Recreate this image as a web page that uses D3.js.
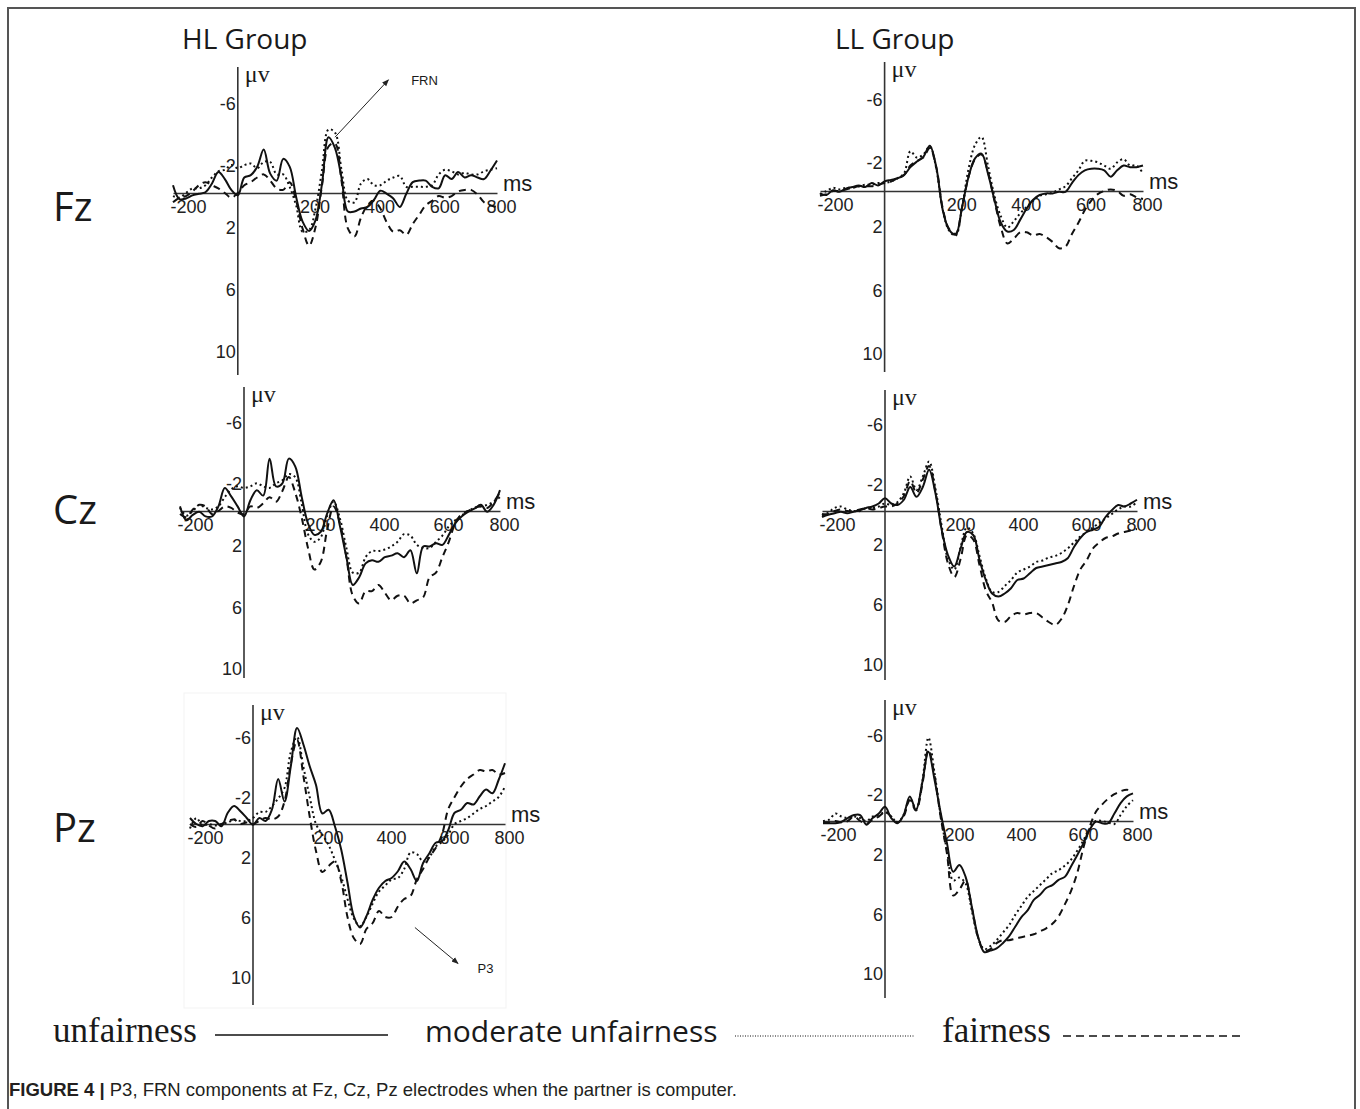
<!DOCTYPE html>
<html>
<head>
<meta charset="utf-8">
<script src="https://cdn.jsdelivr.net/npm/d3@7"></script>
<style>
  body { margin: 0; background: #fff; }
  text { fill: #1a1a1a; }
</style>
</head>
<body>
<div id="chart"></div>
<script>
// sample times (ms), shared by every waveform
var times = [-200,-180,-160,-140,-120,-100,-80,-60,-40,-20,0,20,40,60,80,100,120,140,160,180,200,
  220,240,260,280,300,320,340,360,380,400,420,440,460,480,500,520,540,560,580,600,
  620,640,660,680,700,720,740,760,780,800];

var xTicks = [-200, 200, 400, 600, 800];
var yTicks = [-6, -2, 2, 6, 10];
var groups = ["HL Group", "LL Group"];
var electrodes = ["Fz", "Cz", "Pz"];
var conditions = ["unfairness", "moderate unfairness", "fairness"];

// amplitudes in microvolts (negative plotted upward)
var hlFzUnfair = [-0.5,0.4,0.35,0.15,0.05,-0.05,-0.6,-1.35,-0.9,-0.2,0.15,-1.0,-1.15,-1.7,-2.8,-1.25,-0.8,-2.2,-1.7,0.25,1.85,
  2.45,1.75,-0.6,-3.6,-2.9,-1.0,1.2,1.2,1.0,0.9,0.45,-0.15,0.05,0.35,0.9,0.05,-0.7,-0.8,-0.8,-0.4,
  -0.3,-1.15,-0.9,-1.35,-1.0,-1.15,-1.0,-0.9,-1.45,-2.1];
var hlFzModerate = [0.2,0.3,0.0,-0.3,-0.3,-0.5,-1.0,-1.4,-1.5,-1.8,-1.6,-1.8,-1.9,-1.6,-2.0,-2.0,-1.2,-1.2,-0.4,0.8,2.5,
  2.4,1.0,-1.5,-4.1,-3.9,-1.5,0.5,0.6,-0.6,-0.9,-0.5,-0.5,-0.8,-1.0,-1.1,-0.4,-0.4,-0.4,-0.4,-0.5,
  -1.2,-1.5,-1.4,-1.2,-1.3,-1.2,-1.2,-1.4,-1.5,-1.6];
var hlFzFair = [0.6,0.3,0.2,-0.1,-0.5,-0.7,-0.5,-0.3,0.0,0.3,0.0,-0.5,-0.7,-1.0,-1.2,-0.8,-0.3,-0.2,-0.7,0.5,2.3,
  3.4,2.2,-0.5,-3.0,-3.2,-0.8,2.3,2.8,1.6,0.8,0.5,1.0,1.9,2.5,2.4,2.7,2.0,1.4,0.8,0.5,
  0.2,0.3,0.2,-0.1,-0.2,-0.2,0.1,0.6,0.8,0.9];

var hlCzUnfair = [-0.3,0.6,0.25,0.05,0.35,0.35,-0.3,-1.5,-0.95,-0.3,0.35,-0.7,-1.35,-1.0,-3.4,-1.6,-1.8,-3.4,-2.9,-0.95,0.8,
  1.55,1.35,0.15,-0.7,1.0,3.0,4.8,4.3,3.4,3.2,3.3,3.0,2.9,2.75,3.0,2.55,4.05,2.3,2.3,2.1,
  2.2,1.55,0.8,0.35,0.05,-0.15,-0.4,0.05,-0.4,-1.35];
var hlCzModerate = [-0.2,0.3,0.0,-0.4,-0.2,-0.1,-0.3,-0.9,-1.4,-1.6,-1.5,-1.6,-1.8,-1.6,-1.5,-1.8,-2.0,-2.4,-2.2,-0.5,1.5,
  2.0,1.7,0.3,-0.6,0.5,2.4,4.0,4.0,3.0,2.6,2.6,2.5,2.3,2.0,1.5,1.6,2.2,2.4,2.4,2.0,
  1.6,1.0,0.6,0.3,0.0,-0.2,-0.3,-0.4,-0.6,-0.9];
var hlCzFair = [0.2,0.4,-0.1,-0.4,-0.3,0.2,0.0,-0.3,-0.2,0.1,0.2,-0.3,-0.2,-0.5,-0.9,-0.6,-1.3,-2.2,-1.2,0.4,2.4,
  3.8,3.3,1.2,-0.3,0.8,3.0,5.5,6.0,5.2,5.2,4.8,5.3,5.8,5.5,5.5,6.0,5.8,5.6,4.3,4.0,
  3.0,2.0,0.8,0.2,0.0,-0.2,-0.3,-0.2,-0.6,-1.2];

var hlPzUnfair = [-0.4,0.0,0.15,-0.2,-0.2,0.15,-0.75,-1.2,-0.85,-0.4,0.05,-0.4,-0.2,-0.95,-3.0,-1.5,-3.85,-6.4,-5.3,-3.85,-2.6,
  -0.7,-0.95,0.15,1.7,3.9,6.15,6.9,6.15,5.05,4.25,3.8,3.6,3.15,2.5,3.0,3.8,2.6,1.95,1.25,1.15,
  0.4,-0.75,-0.95,-1.4,-1.3,-1.85,-2.3,-2.05,-2.95,-4.05];
var hlPzModerate = [0.3,-0.4,0.1,0.0,0.1,0.0,-0.1,-0.3,-0.2,-0.2,-0.4,-0.8,-0.8,-1.2,-1.7,-2.4,-4.8,-5.8,-3.8,-1.8,0.0,
  0.7,1.4,2.4,3.5,5.0,6.3,6.8,6.2,5.3,4.5,4.1,3.7,3.6,3.0,1.9,2.0,2.5,2.2,1.5,1.2,
  0.7,0.0,-0.2,-0.4,-0.7,-1.0,-1.2,-1.5,-1.8,-2.5];
var hlPzFair = [0.0,0.2,-0.2,0.1,0.3,0.0,-0.2,-0.3,0.0,-0.1,0.0,-0.2,-0.4,-0.3,-0.5,-1.5,-4.0,-5.6,-3.2,-0.5,1.8,
  3.2,2.8,2.5,3.8,6.2,7.6,8.0,7.0,6.6,5.8,6.2,6.2,5.5,5.0,4.8,3.7,3.0,2.2,1.6,0.7,
  -1.0,-1.8,-2.5,-3.0,-3.3,-3.6,-3.5,-3.6,-3.3,-3.4];

var llFzUnfair = [0.15,0.25,-0.05,0.05,-0.15,-0.25,-0.35,-0.25,-0.5,-0.35,-0.6,-0.7,-0.8,-1.0,-1.5,-1.85,-2.15,-2.85,-1.5,1.2,2.45,
  2.75,1.0,-0.9,-2.05,-2.35,-1.1,0.55,2.0,2.55,2.45,1.8,1.1,0.55,0.25,0.15,0.15,0.05,0.05,-0.5,-1.0,
  -1.3,-1.4,-1.4,-1.3,-0.9,-1.3,-1.6,-1.5,-1.5,-1.6];
var llFzModerate = [0.2,0.0,-0.2,-0.1,-0.2,-0.2,-0.3,-0.4,-0.4,-0.5,-0.5,-0.6,-0.8,-1.1,-2.5,-2.1,-2.3,-2.8,-1.4,1.2,2.5,
  2.8,1.0,-1.4,-2.9,-3.4,-1.6,0.3,1.6,2.3,1.9,1.4,1.0,0.6,0.3,0.2,0.1,-0.1,-0.3,-0.8,-1.3,
  -1.9,-1.9,-1.8,-1.6,-1.4,-1.8,-2.0,-1.6,-1.6,-1.1];
var llFzFair = [0.3,0.2,0.0,0.0,-0.1,-0.2,-0.3,-0.3,-0.3,-0.4,-0.5,-0.6,-0.8,-1.0,-1.6,-1.9,-2.1,-2.7,-1.5,1.1,2.4,
  2.7,1.0,-0.9,-2.0,-2.3,-1.2,0.6,2.3,3.3,3.0,2.6,2.6,2.8,2.7,2.9,3.2,3.6,3.5,2.7,2.0,
  1.2,0.6,0.2,0.0,-0.1,0.0,0.3,0.2,0.4,0.5];

var llCzUnfair = [0.4,0.25,0.15,0.05,0.15,0.05,-0.05,-0.2,-0.3,-0.5,-0.85,-0.5,-0.4,-0.75,-1.6,-0.95,-1.6,-2.75,-1.2,1.25,2.95,
  3.7,2.5,1.4,1.6,3.25,4.6,5.5,5.7,5.5,5.15,4.6,4.5,4.15,3.8,3.7,3.6,3.5,3.4,3.15,2.4,
  1.8,1.4,1.25,1.05,0.4,-0.05,-0.4,-0.3,-0.5,-0.75];
var llCzModerate = [0.3,0.1,-0.2,-0.3,-0.1,0.0,0.0,-0.2,-0.2,-0.3,-0.5,-0.4,-0.6,-1.2,-2.3,-1.4,-2.3,-3.3,-1.5,1.0,3.2,
  3.9,2.4,1.1,1.5,3.0,4.5,5.4,5.4,5.0,4.6,4.1,3.9,3.7,3.4,3.3,3.1,3.0,2.8,2.5,2.1,
  1.7,1.4,1.1,0.8,0.5,0.2,-0.1,-0.3,-0.3,-0.6];
var llCzFair = [0.2,0.2,0.0,-0.1,0.0,0.0,-0.1,-0.2,-0.1,-0.2,-0.3,-0.3,-0.5,-1.0,-2.0,-1.2,-2.1,-3.0,-1.3,1.3,3.5,
  4.4,3.2,1.6,1.9,3.6,5.3,6.1,7.3,7.4,7.0,6.8,6.9,6.8,6.8,7.1,7.4,7.6,7.2,6.3,5.0,
  3.9,3.3,2.5,2.1,1.8,1.7,1.5,1.4,1.3,1.2];

var llPzUnfair = [0.15,0.15,0.15,0.05,-0.2,-0.4,-0.4,0.25,-0.2,-0.5,-0.95,-0.2,0.15,-0.4,-1.65,-0.75,-2.55,-4.65,-2.75,-0.5,1.5,
  3.4,2.95,3.75,5.75,7.75,8.8,8.7,8.55,8.2,7.75,7.1,6.45,6.0,5.3,4.95,4.5,4.3,3.95,3.75,3.05,
  2.3,1.5,0.6,0.05,0.15,0.15,-0.5,-1.2,-1.65,-1.85];
var llPzModerate = [0.0,-0.1,-0.5,-0.3,-0.2,-0.3,-0.2,0.0,-0.3,-0.4,-0.6,-0.3,0.1,-0.4,-1.5,-0.8,-2.6,-5.6,-3.2,-0.3,2.0,
  4.0,3.8,4.2,6.0,7.8,8.6,8.4,8.0,7.5,7.0,6.3,5.7,5.1,4.7,4.3,3.9,3.5,3.3,3.0,2.6,
  2.0,1.3,0.5,0.0,0.0,0.1,0.2,-0.4,-1.0,-1.4];
var llPzFair = [0.1,0.1,0.0,0.1,0.0,-0.3,0.0,0.2,-0.1,-0.3,-0.6,-0.3,0.1,-0.3,-1.4,-0.7,-2.4,-4.8,-3.0,-0.2,2.2,
  5.0,4.6,4.0,5.8,7.8,8.7,8.6,8.2,8.0,8.0,7.9,7.8,7.7,7.6,7.4,7.2,6.9,6.4,5.6,4.7,
  3.5,1.8,0.4,-0.6,-1.1,-1.5,-1.8,-2.0,-2.1,-2.0];

// layout of the six panels (page pixels)
var panels = [
  {series: [hlFzUnfair, hlFzModerate, hlFzFair], x0: 173, x1: 497, zero: 193, ppu: 15.5, top: 67, bottom: 375},
  {series: [llFzUnfair, llFzModerate, llFzFair], x0: 820, x1: 1143, zero: 191, ppu: 15.9, top: 62, bottom: 372},
  {series: [hlCzUnfair, hlCzModerate, hlCzFair], x0: 180, x1: 500, zero: 511, ppu: 15.4, top: 387, bottom: 678},
  {series: [llCzUnfair, llCzModerate, llCzFair], x0: 822, x1: 1137, zero: 511, ppu: 15, top: 390, bottom: 680},
  {series: [hlPzUnfair, hlPzModerate, hlPzFair], x0: 190, x1: 505, zero: 824, ppu: 15, top: 705, bottom: 1005},
  {series: [llPzUnfair, llPzModerate, llPzFair], x0: 823, x1: 1133, zero: 821, ppu: 14.9, top: 700, bottom: 998}
];
var dashes = [null, "2,3", "7,5"];

var svg = d3.select("#chart").append("svg")
  .attr("width", 1360).attr("height", 1109)
  .style("display", "block");

svg.append("rect").attr("width", 1360).attr("height", 1109).attr("fill", "#fff");
svg.append("path").attr("d", "M8,1109V8H1355V1109")
  .attr("fill", "none").attr("stroke", "#555").attr("stroke-width", 2);

// faint scanned box behind HL Pz
svg.append("rect").attr("x", 184).attr("y", 693).attr("width", 322).attr("height", 315)
  .attr("fill", "#fff").attr("stroke", "#f3f3f3");

svg.append("text").attr("x", 182).attr("y", 49).text(groups[0])
  .style("font", "28px 'Open Sans'");
svg.append("text").attr("x", 835).attr("y", 49).text(groups[1])
  .style("font", "28px 'Open Sans'");

var rowY = [221, 524, 842];
electrodes.forEach(function(e, i) {
  svg.append("text").attr("x", 53).attr("y", rowY[i]).text(e)
    .style("font", "40px 'Open Sans'");
});

var fmt = function(d) { return String(d); };
var scalesList = [];
panels.forEach(function(p) {
  var x = d3.scaleLinear().domain([-200, 800]).range([p.x0, p.x1]);
  var y = d3.scaleLinear().domain([0, 1]).range([p.zero, p.zero + p.ppu]);
  scalesList.push({x: x, y: y});
  var g = svg.append("g");

  // y axis line
  g.append("line").attr("x1", x(0)).attr("x2", x(0)).attr("y1", p.top).attr("y2", p.bottom)
    .attr("stroke", "#333").attr("stroke-width", 1.6);

  var ya = g.append("g").attr("transform", "translate(" + x(0) + ",0)")
    .call(d3.axisLeft(y).tickValues(yTicks).tickFormat(fmt).tickSize(0).tickPadding(2));
  ya.select(".domain").remove();
  ya.selectAll("text").attr("y", 4)
    .style("font", "18px 'Liberation Sans'").style("fill", "#222");

  var xa = g.append("g").attr("transform", "translate(0," + p.zero + ")")
    .call(d3.axisBottom(x).tickValues(xTicks).tickFormat(fmt).tickSize(0).tickSizeOuter(0));
  xa.select(".domain").attr("stroke", "#333").attr("stroke-width", 1.6);
  xa.selectAll("text")
    .attr("y", 7)
    .attr("text-anchor", function(d) { return d === 800 ? "middle" : "start"; })
    .attr("x", function(d) { return d === 800 ? 4 : -3; })
    .style("font", "18px 'Liberation Sans'").style("fill", "#222");

  g.append("text").attr("x", x(0) + 7).attr("y", p.top + 15).text("\u03bcv")
    .style("font", "24px 'Liberation Serif'");
  g.append("text").attr("x", p.x1 + 6).attr("y", p.zero - 2).text("ms")
    .style("font", "22px 'Liberation Sans'");

  var line = d3.line()
    .x(function(d, i) { return x(times[i]); })
    .y(function(d) { return y(d); })
    .curve(d3.curveCatmullRom.alpha(0.5));

  p.series.forEach(function(s, k) {
    g.append("path").datum(s).attr("d", line)
      .attr("fill", "none").attr("stroke", "#111").attr("stroke-width", 2)
      .attr("stroke-dasharray", dashes[k]);
  });
});

// annotations
var defs = svg.append("defs");
defs.append("marker").attr("id", "arr").attr("viewBox", "0 0 10 10")
  .attr("refX", 9).attr("refY", 5).attr("markerWidth", 7).attr("markerHeight", 7)
  .attr("orient", "auto")
  .append("path").attr("d", "M0,1L10,5L0,9z").attr("fill", "#222");

var s0 = scalesList[0];
svg.append("line").attr("x1", s0.x(300)).attr("y1", s0.y(-3.6))
  .attr("x2", s0.x(465)).attr("y2", s0.y(-7.3))
  .attr("stroke", "#222").attr("stroke-width", 1).attr("marker-end", "url(#arr)");
svg.append("text").attr("x", s0.x(535)).attr("y", s0.y(-7.0)).text("FRN")
  .style("font", "13px 'Liberation Sans'");

var s4 = scalesList[4];
svg.append("line").attr("x1", s4.x(514)).attr("y1", s4.y(6.9))
  .attr("x2", s4.x(651)).attr("y2", s4.y(9.3))
  .attr("stroke", "#222").attr("stroke-width", 1).attr("marker-end", "url(#arr)");
svg.append("text").attr("x", s4.x(713)).attr("y", s4.y(9.9)).text("P3")
  .style("font", "13px 'Liberation Sans'");

// legend
var legY = 1042;
svg.append("text").attr("x", 53).attr("y", legY).text(conditions[0])
  .style("font", "35px 'Liberation Serif'");
svg.append("line").attr("x1", 215).attr("x2", 388).attr("y1", 1035).attr("y2", 1035)
  .attr("stroke", "#111").attr("stroke-width", 1.5);
svg.append("text").attr("x", 425).attr("y", legY).text(conditions[1])
  .style("font", "30px 'Open Sans'");
svg.append("line").attr("x1", 735).attr("x2", 915).attr("y1", 1036).attr("y2", 1036)
  .attr("stroke", "#111").attr("stroke-width", 1.2).attr("stroke-dasharray", "1,1.5");
svg.append("text").attr("x", 942).attr("y", legY).text(conditions[2])
  .style("font", "35px 'Liberation Serif'");
svg.append("line").attr("x1", 1063).attr("x2", 1240).attr("y1", 1036).attr("y2", 1036)
  .attr("stroke", "#111").attr("stroke-width", 1.5).attr("stroke-dasharray", "8,5");

// caption
var cap = svg.append("text").attr("x", 9).attr("y", 1096)
  .style("font", "18.5px 'Liberation Sans'").style("fill", "#231f20");
cap.append("tspan").style("font-weight", "bold").text("FIGURE 4 | ");
cap.append("tspan").text("P3, FRN components at Fz, Cz, Pz electrodes when the partner is computer.");
</script>
</body>
</html>
